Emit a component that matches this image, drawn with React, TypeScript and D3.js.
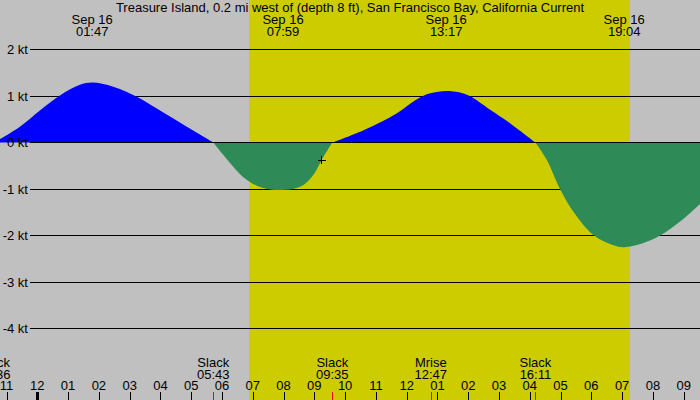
import React from "react";
import * as d3 from "d3";

// ---- data ----
const title =
  "Treasure Island, 0.2 mi west of (depth 8 ft), San Francisco Bay, California Current";

// current samples (month-day hour:minute) and speed in knots (+ flood, - ebb)
const sampleTimes = [
  "09-15 22:36", "09-15 23:26", "09-16 00:05", "09-16 00:44", "09-16 01:23",
  "09-16 01:47", "09-16 02:28", "09-16 03:14", "09-16 03:53", "09-16 04:38",
  "09-16 05:17", "09-16 05:43", "09-16 06:02", "09-16 06:22", "09-16 06:41",
  "09-16 07:08", "09-16 07:33", "09-16 07:59", "09-16 08:18", "09-16 08:38",
  "09-16 08:58", "09-16 09:14", "09-16 09:35", "09-16 10:35", "09-16 11:41",
  "09-16 12:06", "09-16 12:26", "09-16 12:46", "09-16 13:17", "09-16 13:42",
  "09-16 14:03", "09-16 14:42", "09-16 15:22", "09-16 16:11", "09-16 16:33",
  "09-16 16:59", "09-16 17:25", "09-16 18:04", "09-16 18:43", "09-16 19:04",
  "09-16 19:39", "09-16 20:14", "09-16 20:53", "09-16 21:32", "09-16 22:12",
];
const knots = [
  0, 0.34, 0.69, 1.01, 1.24,
  1.29, 1.2, 0.985, 0.73, 0.43,
  0.17, 0, -0.26, -0.52, -0.74,
  -0.93, -1.01, -1.02, -1.0, -0.92,
  -0.7, -0.38, 0, 0.26, 0.63,
  0.83, 0.97, 1.06, 1.11, 1.08,
  1.0, 0.71, 0.41, 0, -0.37,
  -1.0, -1.49, -1.99, -2.21, -2.25,
  -2.17, -2.0, -1.7, -1.32, -0.9,
];

// max flood / max ebb events (top labels)
const maxTimes = ["09-16 01:47", "09-16 07:59", "09-16 13:17", "09-16 19:04"];

// slack / moon events (bottom labels)
const eventTimes = ["09-15 22:36", "09-16 05:43", "09-16 09:35", "09-16 12:47", "09-16 16:11"];
const eventNames = ["Slack", "Slack", "Slack", "Mrise", "Slack"];

// daylight
const sunrise = "09-16 06:53";
const sunset = "09-16 19:15";

// current-time marker
const nowTime = "09-16 09:14";
const nowKnots = -0.38;

// y axis ticks
const knotTicks = [2, 1, 0, -1, -2, -3, -4];

const W = 700;
const H = 400;
const FONT = "'Liberation Sans', Arial, sans-serif";
const FS = 13;

type P = { t: Date; v: number };

export default function App() {
  const parse = d3.timeParse("%m-%d %H:%M");
  const x = d3
    .scaleTime()
    .domain([parse("09-16 00:00") as Date, parse("09-16 21:00") as Date])
    .range([37.3, 683.7]);
  const y = d3.scaleLinear().domain([-4, 2]).range([328.5, 49.5]);

  const pts: P[] = sampleTimes.map((t, i) => ({ t: parse(t) as Date, v: knots[i] }));

  // split into half-cycles at each slack (zero) point
  const segments: P[][] = [];
  let cur: P[] = [];
  pts.forEach((p, i) => {
    cur.push(p);
    if (p.v === 0 && i > 0) {
      segments.push(cur);
      cur = [p];
    }
  });
  if (cur.length > 1) segments.push(cur);

  const area = d3
    .area<P>()
    .x((d) => x(d.t))
    .y0(y(0))
    .y1((d) => y(d.v))
    .curve(d3.curveCatmullRom.alpha(0.5));

  const fmtHM = d3.timeFormat("%H:%M");
  const fmtDay = d3.timeFormat("%b %d");
  const fmtHour = d3.timeFormat("%I");

  const [x0, x1] = x.domain();
  const hours = d3.timeHour
    .range(d3.timeHour.offset(x0, -2), d3.timeHour.offset(x1, 2))
    .filter((d) => x(d) >= -5 && x(d) <= W + 5);

  const y0 = y(0);
  const dayX0 = x(parse(sunrise) as Date);
  const dayX1 = x(parse(sunset) as Date);
  const nx = x(parse(nowTime) as Date);
  const ny = y(nowKnots);

  return (
    <svg
      width={W}
      height={H}
      viewBox={`0 0 ${W} ${H}`}
      style={{ position: "absolute", left: 0, top: 0, display: "block" }}
      fontFamily={FONT}
    >
      <rect x={0} y={0} width={W} height={H} fill="#c0c0c0" />
      <rect x={dayX0} y={0} width={dayX1 - dayX0} height={H} fill="#cccc00" />

      {/* grid lines */}
      {knotTicks
        .filter((k) => k !== 0)
        .map((k) => (
          <line
            key={k}
            x1={30}
            x2={W}
            y1={y(k)}
            y2={y(k)}
            stroke="#000"
            strokeWidth={1}
            shapeRendering="crispEdges"
          />
        ))}

      {/* flow areas, one per half-cycle */}
      {segments.map((seg, i) => {
        const mid = seg[Math.floor(seg.length / 2)];
        return (
          <path key={i} d={area(seg) || ""} fill={mid.v >= 0 ? "#0000ff" : "#2e8b57"} />
        );
      })}

      <line x1={30} x2={W} y1={y0} y2={y0} stroke="#000" strokeWidth={1} shapeRendering="crispEdges" />

      {/* y labels */}
      {knotTicks.map((k) => (
        <text key={k} x={28} y={y(k) + 4.5} textAnchor="end" fontSize={FS} fill="#000">
          {`${k} kt`}
        </text>
      ))}

      {/* title */}
      <text x={350} y={12} textAnchor="middle" fontSize={FS} fill="#000">
        {title}
      </text>

      {/* max labels */}
      {maxTimes.map((t) => {
        const d = parse(t) as Date;
        return (
          <g key={t}>
            <text x={x(d)} y={24} textAnchor="middle" fontSize={FS} fill="#000">
              {fmtDay(d)}
            </text>
            <text x={x(d)} y={36} textAnchor="middle" fontSize={FS} fill="#000">
              {fmtHM(d)}
            </text>
          </g>
        );
      })}

      {/* event labels */}
      {eventTimes.map((t, i) => {
        const d = parse(t) as Date;
        return (
          <g key={t}>
            <text x={x(d)} y={366.5} textAnchor="middle" fontSize={FS} fill="#000">
              {eventNames[i]}
            </text>
            <text x={x(d)} y={378.5} textAnchor="middle" fontSize={FS} fill="#000">
              {fmtHM(d)}
            </text>
            <line
              x1={Math.round(x(d)) + 0.5}
              x2={Math.round(x(d)) + 0.5}
              y1={392}
              y2={H}
              stroke="#ff0000"
              strokeWidth={1}
            />
          </g>
        );
      })}

      {/* hour ticks */}
      {hours.map((d) => {
        const isMidnight = d.getHours() === 0;
        const hx = Math.round(x(d)) + 0.5;
        return (
          <g key={+d}>
            <text x={x(d)} y={390} textAnchor="middle" fontSize={FS} fill="#000">
              {fmtHour(d)}
            </text>
            <line
              x1={hx}
              x2={hx}
              y1={392}
              y2={H}
              stroke="#000"
              strokeWidth={isMidnight ? 3 : 1}
            />
          </g>
        );
      })}

      {/* current time marker */}
      <line x1={nx - 4} x2={nx + 4} y1={ny} y2={ny} stroke="#000" strokeWidth={1} shapeRendering="crispEdges" />
      <line x1={nx} x2={nx} y1={ny - 4} y2={ny + 4} stroke="#000" strokeWidth={1} shapeRendering="crispEdges" />
    </svg>
  );
}
